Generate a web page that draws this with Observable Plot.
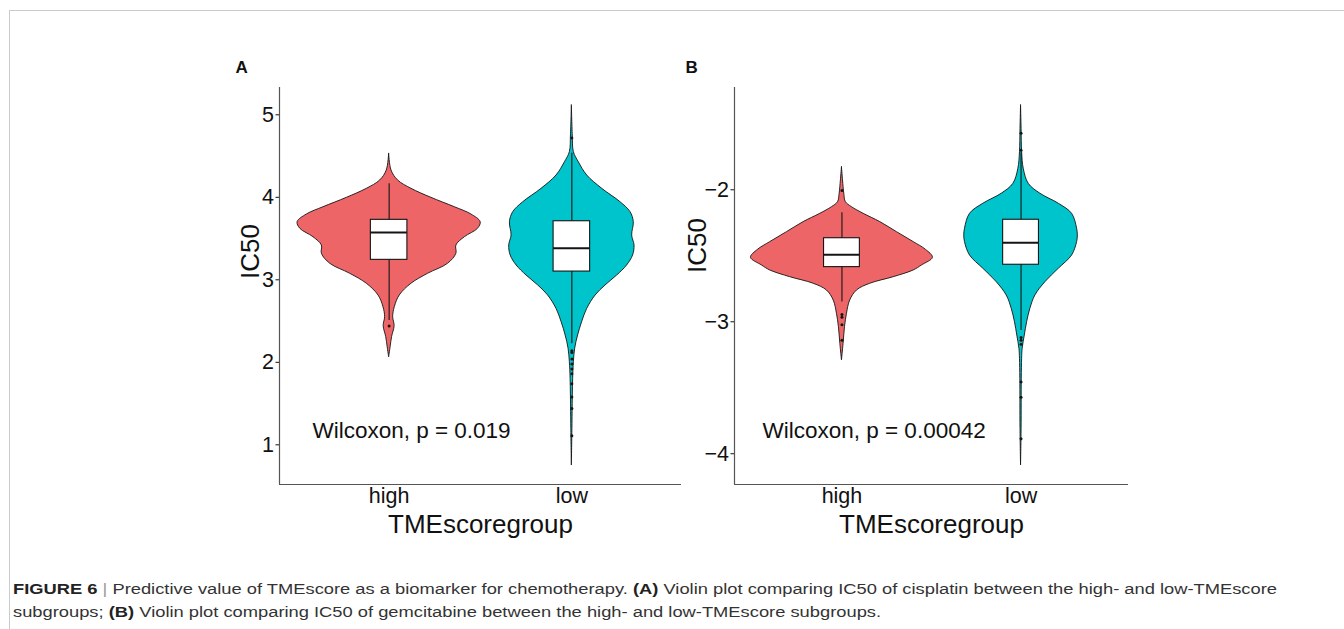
<!DOCTYPE html>
<html><head><meta charset="utf-8">
<script src="https://cdn.jsdelivr.net/npm/d3@7"></script>
<script src="https://cdn.jsdelivr.net/npm/@observablehq/plot@0.6"></script>
<style>
html,body{margin:0;padding:0;background:#fff;}
body{width:1344px;height:629px;position:relative;overflow:hidden;font-family:"Liberation Sans",Arial,sans-serif;}
#frame{position:absolute;left:9px;top:10px;width:1400px;height:700px;border-top:1.5px solid #cbcbcb;border-left:1.5px solid #cbcbcb;}
#pa{position:absolute;left:200px;top:50px;}
#pb{position:absolute;left:680px;top:50px;}
.cap{position:absolute;left:13px;font-size:15.5px;line-height:15px;color:#333;white-space:nowrap;transform-origin:0 0;}
.cap b{color:#222;}
.sep{color:#9a9a9a;}
</style></head><body>
<div id="frame"></div>
<div id="pa"></div><div id="pb"></div>
<div class="cap" id="c1" style="top:581px"><b>FIGURE 6</b> <span class="sep">|</span> Predictive value of TMEscore as a biomarker for chemotherapy. <b>(A)</b> Violin plot comparing IC50 of cisplatin between the high- and low-TMEscore</div>
<div class="cap" id="c2" style="top:604px">subgroups; <b>(B)</b> Violin plot comparing IC50 of gemcitabine between the high- and low-TMEscore subgroups.</div>
<script>
// ---------- data ----------
const categories = ["high", "low"];
const groupColors = ["#ee6568", "#00c4cc"];
const xTitle = "TMEscoregroup";
const yTitle = "IC50";

// Panel A (cisplatin): violin density profiles (IC50 value, half-width in category units)
const aHighY = [4.527, 4.325, 4.204, 4.103, 3.994, 3.88, 3.792, 3.698, 3.618, 3.516, 3.416, 3.315, 3.194, 3.073, 2.952, 2.81, 2.668, 2.547, 2.44, 2.305, 2.183, 2.06];
const aHighW = [0, .013, .049, .122, .231, .359, .450, .501, .486, .414, .368, .368, .322, .213, .122, .058, .031, .022, .030, .016, .008, 0];
const aLowY = [5.113, 4.749, 4.547, 4.425, 4.264, 4.103, 3.941, 3.82, 3.698, 3.537, 3.416, 3.295, 3.173, 3.052, 2.931, 2.81, 2.648, 2.486, 2.325, 2.164, 2.001, 1.8, 1.395, 1.194, 0.749];
const aLowW = [0, .005, .011, .038, .084, .166, .266, .321, .339, .330, .343, .335, .302, .248, .184, .130, .084, .056, .034, .018, .011, .007, .004, .003, 0];
const aQ1 = [3.242, 3.10];
const aMedian = [3.573, 3.383];
const aQ3 = [3.727, 3.71];
const aWhiskLo = [2.507, 2.224];
const aWhiskHi = [4.164, 4.535];
const aOutHigh = [2.44];
const aOutLow = [4.72, 2.14, 2.12, 2.04, 1.98, 1.92, 1.86, 1.74, 1.58, 1.44, 1.11];
const aTicks = [1, 2, 3, 4, 5];
const aDomain = [0.519, 5.331];
const aLabel = "Wilcoxon, p = 0.019";
const aLabelAt = [0.58, 1.17];

// Panel B (gemcitabine)
const bHighY = [-1.829, -1.93, -2.03, -2.094, -2.132, -2.182, -2.245, -2.321, -2.397, -2.455, -2.515, -2.573, -2.611, -2.662, -2.712, -2.763, -2.839, -2.939, -3.041, -3.167, -3.293];
const bHighW = [0, .006, .013, .022, .056, .121, .214, .307, .401, .469, .508, .447, .401, .289, .158, .084, .046, .028, .017, .009, 0];
const bLowY = [-1.361, -1.538, -1.715, -1.841, -1.955, -2.03, -2.106, -2.182, -2.295, -2.346, -2.397, -2.498, -2.598, -2.7, -2.801, -2.902, -3.003, -3.104, -3.205, -3.28, -3.432, -3.811, -4.089];
const bLowW = [0, .003, .006, .015, .043, .108, .211, .285, .313, .317, .313, .285, .211, .136, .080, .052, .034, .021, .009, .006, .004, .003, 0];
const bQ1 = [-2.586, -2.568];
const bMedian = [-2.492, -2.402];
const bQ3 = [-2.367, -2.227];
const bWhiskLo = [-2.851, -3.066];
const bWhiskHi = [-2.174, -1.72];
const bOutHigh = [-2.005, -2.945, -2.965, -3.023, -3.14];
const bOutLow = [-1.571, -1.70, -3.12, -3.14, -3.17, -3.457, -3.571, -3.886];
const bTicks = [-4, -3, -2];
const bDomain = [-4.233, -1.225];
const bLabel = "Wilcoxon, p = 0.00042";
const bLabelAt = [0.556, -3.823];

// ---------- drawing ----------
const pos = d => categories.indexOf(d.group) + 1;
const ink = "#141414";
const intFmt = d3.format("d");

function panel(o) {
  const vrows = [];
  o.ys.forEach((ys, g) => ys.forEach((y, i) => vrows.push({group: categories[g], y, w: o.ws[g][i]})));
  const brows = categories.map((c, i) => ({group: c, q1: o.q1[i], med: o.med[i], q3: o.q3[i], lo: o.lo[i], hi: o.hi[i]}));
  const orows = [];
  o.outs.forEach((arr, g) => arr.forEach(y => orows.push({group: categories[g], y})));
  return Plot.plot({
    width: o.width, height: 500,
    marginLeft: o.ml, marginRight: o.mr, marginTop: 37, marginBottom: 66,
    style: {fontFamily: "'Liberation Sans', Arial, sans-serif", fontSize: "21.5px", color: "#111", background: "transparent", overflow: "visible"},
    x: {domain: [0.4, 2.6], ticks: [1, 2], tickFormat: d => categories[d - 1], tickSize: 0, tickPadding: 3, label: null},
    y: {domain: o.domain, ticks: o.ticks, tickFormat: intFmt, tickSize: 3.5, tickPadding: 2, label: null},
    color: {domain: categories, range: groupColors},
    marks: [
      Plot.areaX(vrows, {y: "y", x1: d => pos(d) - d.w, x2: d => pos(d) + d.w, z: "group", fill: "group", stroke: ink, strokeWidth: 0.9, curve: "catmull-rom"}),
      Plot.ruleX(brows, {x: pos, y1: "lo", y2: "hi", stroke: ink, strokeWidth: 1.1}),
      Plot.rect(brows, {x1: d => pos(d) - 0.1, x2: d => pos(d) + 0.1, y1: "q1", y2: "q3", fill: "white", stroke: ink, strokeWidth: 1.1}),
      Plot.ruleY(brows, {x1: d => pos(d) - 0.1, x2: d => pos(d) + 0.1, y: "med", stroke: ink, strokeWidth: 2}),
      Plot.dot(orows, {x: pos, y: "y", r: 1.5, fill: ink, stroke: null}),
      Plot.ruleX([0.4], {stroke: "#555", strokeWidth: 1.2}),
      Plot.ruleY([o.domain[0]], {stroke: "#555", strokeWidth: 1.2}),
      Plot.text([o.label], {x: o.labelAt[0], y: o.labelAt[1], text: d => d, textAnchor: "start", fontSize: 22.5, fill: "#111"}),
      Plot.text([xTitle], {frameAnchor: "bottom", lineAnchor: "middle", text: d => d, dy: 40, fontSize: 26, fill: "#111"}),
      Plot.text([yTitle], {frameAnchor: "left", lineAnchor: "middle", text: d => d, rotate: -90, dx: o.ylDx, dy: o.ylDy, fontSize: 26, fill: "#111"}),
      Plot.text([o.letter], {frameAnchor: "top-left", lineAnchor: "middle", text: d => d, dx: o.letterDx, dy: -20, fontSize: 17, fontWeight: "bold", fill: "#111"})
    ]
  });
}

document.getElementById("pa").appendChild(panel({
  ys: [aHighY, aLowY], ws: [aHighW, aLowW], q1: aQ1, med: aMedian, q3: aQ3, lo: aWhiskLo, hi: aWhiskHi,
  outs: [aOutHigh, aOutLow], domain: aDomain, ticks: aTicks, label: aLabel, labelAt: aLabelAt,
  letter: "A", width: 490, ml: 79, mr: 9, ylDx: -29, ylDy: -7, letterDx: -44
}));
document.getElementById("pb").appendChild(panel({
  ys: [bHighY, bLowY], ws: [bHighW, bLowW], q1: bQ1, med: bMedian, q3: bQ3, lo: bWhiskLo, hi: bWhiskHi,
  outs: [bOutHigh, bOutLow], domain: bDomain, ticks: bTicks, label: bLabel, labelAt: bLabelAt,
  letter: "B", width: 460, ml: 54, mr: 12, ylDx: -37, ylDy: -13, letterDx: -49
}));

// fit caption to its printed width
const c1 = document.getElementById("c1"), c2 = document.getElementById("c2");
const w = c1.getBoundingClientRect().width;
const s = (1277 - 13) / w;
c1.style.transform = c2.style.transform = `scaleX(${s})`;
</script>
</body></html>
